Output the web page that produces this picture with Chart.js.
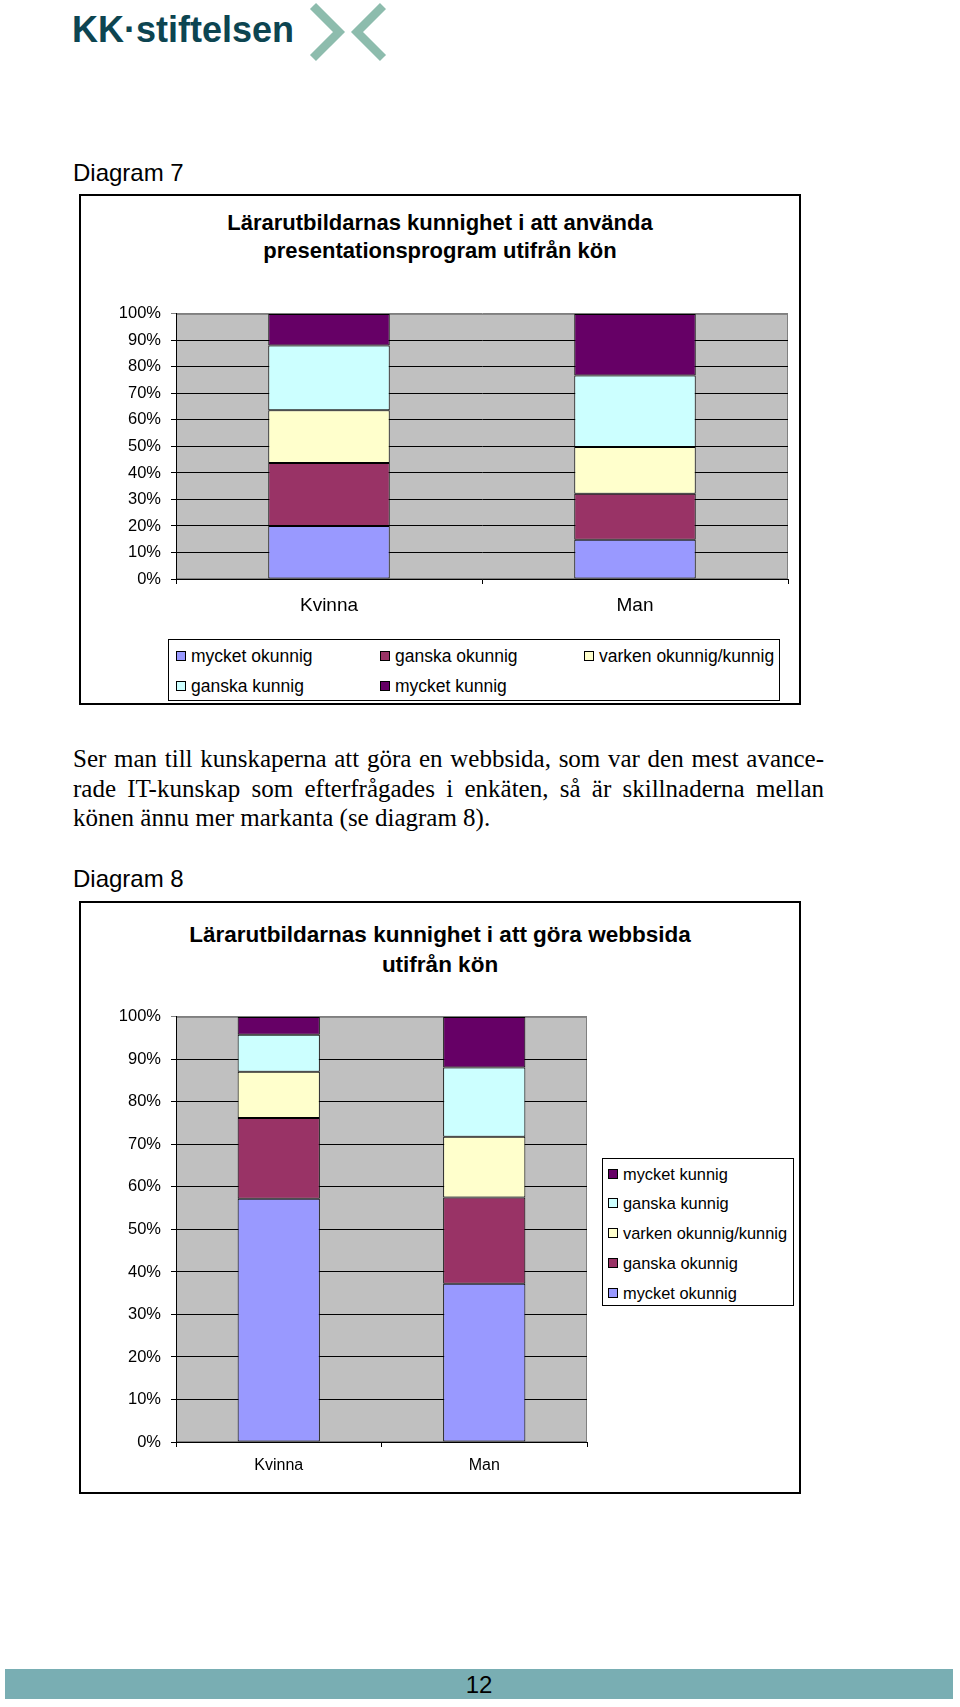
<!DOCTYPE html>
<html lang="sv">
<head>
<meta charset="utf-8">
<title>Lärarutbildarnas kunnighet utifrån kön</title>
<script src="https://cdn.jsdelivr.net/npm/chart.js@4.4.1/dist/chart.umd.min.js"></script>
<style>
  body { margin: 0; width: 960px; height: 1707px; position: relative; overflow: hidden;
         background: #fff; color: #000; font-family: "Liberation Sans", Arial, sans-serif; }
  .abs { position: absolute; }
  .logo { left: 72px; top: 9px; font-weight: bold; font-size: 36px; line-height: 42px;
          letter-spacing: 0; color: #0d4551; white-space: nowrap; }
  .caption { left: 73px; font-size: 24px; line-height: 28px; }
  .box { left: 79px; width: 722px; border: 2px solid #000; box-sizing: border-box; }
  .title { left: 79px; width: 722px; text-align: center; font-weight: bold; }
  .para { left: 73px; width: 751px; font-family: "Liberation Serif", "Times New Roman", serif;
          font-size: 25px; line-height: 29.5px; }
  .para div.j { text-align: justify; text-align-last: justify; }
  .legend { border: 1.5px solid #000; box-sizing: border-box; background: #fff; }
  .legend .item { position: absolute; height: 20px; line-height: 20px; white-space: nowrap;
                  display: flex; align-items: center; }
  .legend .sw { width: 8px; height: 8px; border: 1px solid #000; margin-right: 5px; flex: none; }
  .footer { left: 5px; top: 1669px; width: 948px; height: 30px; background: #79aeb3;
            text-align: center; font-size: 24px; line-height: 31px; }
</style>
</head>
<body>

<div class="abs logo">KK·stiftelsen</div>
<svg class="abs" style="left:300px;top:0" width="100" height="66">
  <polyline points="13,6 39,32 13,58" fill="none" stroke="#8dbcad" stroke-width="8.5"/>
  <polyline points="83,6 57,32 83,58" fill="none" stroke="#8dbcad" stroke-width="8.5"/>
</svg>

<div class="abs caption" style="top:159px">Diagram 7</div>
<div class="abs box" style="top:194px;height:511px"></div>
<div class="abs title" style="top:209px;font-size:22px;line-height:28px">Lärarutbildarnas kunnighet i att använda<br>presentationsprogram utifrån kön</div>
<canvas id="chart7" class="abs" style="left:80px;top:294px" width="720" height="331"></canvas>
<div id="legend7" class="abs legend" style="left:168px;top:639px;width:612px;height:62px"></div>

<div class="abs para" style="top:744px">
  <div class="j">Ser man till kunskaperna att göra en webbsida, som var den mest avance-</div>
  <div class="j">rade IT-kunskap som efterfrågades i enkäten, så är skillnaderna mellan</div>
  <div>könen ännu mer markanta (se diagram 8).</div>
</div>

<div class="abs caption" style="top:865px">Diagram 8</div>
<div class="abs box" style="top:901px;height:593px"></div>
<div class="abs title" style="top:920px;font-size:22.5px;line-height:30px">Lärarutbildarnas kunnighet i att göra webbsida<br>utifrån kön</div>
<canvas id="chart8" class="abs" style="left:80px;top:997px" width="530" height="493"></canvas>
<div id="legend8" class="abs legend" style="left:602px;top:1158px;width:192px;height:148px"></div>

<div class="abs footer">12</div>

<script>
const categories = ['Kvinna', 'Man'];
const seriesNames = ['mycket okunnig', 'ganska okunnig', 'varken okunnig/kunnig', 'ganska kunnig', 'mycket kunnig'];
const seriesColors = ['#9999ff', '#993366', '#ffffcc', '#ccffff', '#660066'];

// Diagram 7 - presentationsprogram (andel i %, Kvinna / Man)
const d7MycketOkunnig = [20.0, 14.8];
const d7GanskaOkunnig = [23.8, 17.4];
const d7Varken = [19.9, 17.6];
const d7GanskaKunnig = [24.4, 27.0];
const d7MycketKunnig = [11.9, 23.2];

// Diagram 8 - webbsida
const d8MycketOkunnig = [57.2, 37.2];
const d8GanskaOkunnig = [19.0, 20.3];
const d8Varken = [10.9, 14.3];
const d8GanskaKunnig = [8.7, 16.3];
const d8MycketKunnig = [4.2, 11.9];

(function() {
  // grey plot area like the old Excel charts
  const plotBackground = {
    id: 'plotBackground',
    beforeDraw(chart, args, opts) {
      const a = chart.chartArea;
      const ctx = chart.ctx;
      ctx.save();
      ctx.fillStyle = opts.color;
      ctx.fillRect(a.left, a.top, a.right - a.left, a.bottom - a.top);
      ctx.strokeStyle = opts.borderColor;
      ctx.lineWidth = 1;
      ctx.strokeRect(a.left + 0.5, a.top + 0.5, a.right - a.left - 1, a.bottom - a.top - 1);
      ctx.restore();
    }
  };

  function makeDatasets(seriesData, barPct) {
    return seriesData.map((values, i) => ({
      label: seriesNames[i],
      data: values,
      backgroundColor: seriesColors[i],
      borderColor: '#000',
      borderWidth: 1,
      borderSkipped: false,
      barPercentage: barPct,
      categoryPercentage: 1
    }));
  }

  function chartOptions(cfg) {
    return {
      responsive: false,
      animation: false,
      // top of the plot comes from the y tick label padding (about 19.6px)
      layout: { padding: { top: 0, right: cfg.padRight, left: 0, bottom: 0 } },
      plugins: {
        legend: { display: false },
        tooltip: { enabled: false },
        plotBackground: { color: '#c0c0c0', borderColor: '#808080' }
      },
      scales: {
        x: {
          stacked: true,
          grid: { drawOnChartArea: false, drawTicks: true, tickLength: 5, color: '#000', offset: true },
          border: { color: '#000', width: 1 },
          ticks: {
            color: '#000', padding: cfg.xPad, maxRotation: 0,
            font: { family: 'Liberation Sans', size: cfg.xFont }
          },
          afterFit: function(scale) { scale.height = cfg.xHeight; }
        },
        y: {
          stacked: true,
          min: 0,
          max: 100,
          grid: {
            color: ctx => (ctx.tick && ctx.tick.value === 100) ? '#808080' : '#000',
            tickLength: 5
          },
          border: { color: '#000', width: 1 },
          ticks: {
            stepSize: 10, padding: 10, color: '#000',
            font: { family: 'Liberation Sans', size: 16.5 },
            callback: v => v + '%'
          },
          afterFit: function(scale) { scale.width = cfg.yWidth; }
        }
      }
    };
  }

  // legend as html, built from the chart's own datasets
  function buildLegend(chart, el, positions, fontSize) {
    chart.data.datasets.forEach((ds, i) => {
      const p = positions[i];
      const item = document.createElement('div');
      item.className = 'item';
      item.style.left = p[0] + 'px';
      item.style.top = (p[1] - 10) + 'px';
      item.style.fontSize = fontSize + 'px';
      const sw = document.createElement('span');
      sw.className = 'sw';
      sw.style.background = ds.backgroundColor;
      item.appendChild(sw);
      item.appendChild(document.createTextNode(ds.label));
      el.appendChild(item);
    });
  }

  const chart7 = new Chart(document.getElementById('chart7'), {
    type: 'bar',
    data: {
      labels: categories,
      datasets: makeDatasets([d7MycketOkunnig, d7GanskaOkunnig, d7Varken, d7GanskaKunnig, d7MycketKunnig], 0.397)
    },
    options: chartOptions({ padRight: 12, yWidth: 96, xHeight: 46, xFont: 19, xPad: 10 }),
    plugins: [plotBackground]
  });

  const chart8 = new Chart(document.getElementById('chart8'), {
    type: 'bar',
    data: {
      labels: categories,
      datasets: makeDatasets([d8MycketOkunnig, d8GanskaOkunnig, d8Varken, d8GanskaKunnig, d8MycketKunnig], 0.4)
    },
    options: chartOptions({ padRight: 23, yWidth: 96, xHeight: 48, xFont: 16, xPad: 9 }),
    plugins: [plotBackground]
  });

  // positions are relative to the legend box (left of swatch, row centre)
  buildLegend(chart7, document.getElementById('legend7'),
    [[7, 16], [211, 16], [415, 16], [7, 46], [211, 46]], 17.5);
  buildLegend(chart8, document.getElementById('legend8'),
    [[5, 134], [5, 104], [5, 74], [5, 44], [5, 15]], 16.4);
})();
</script>
</body>
</html>
